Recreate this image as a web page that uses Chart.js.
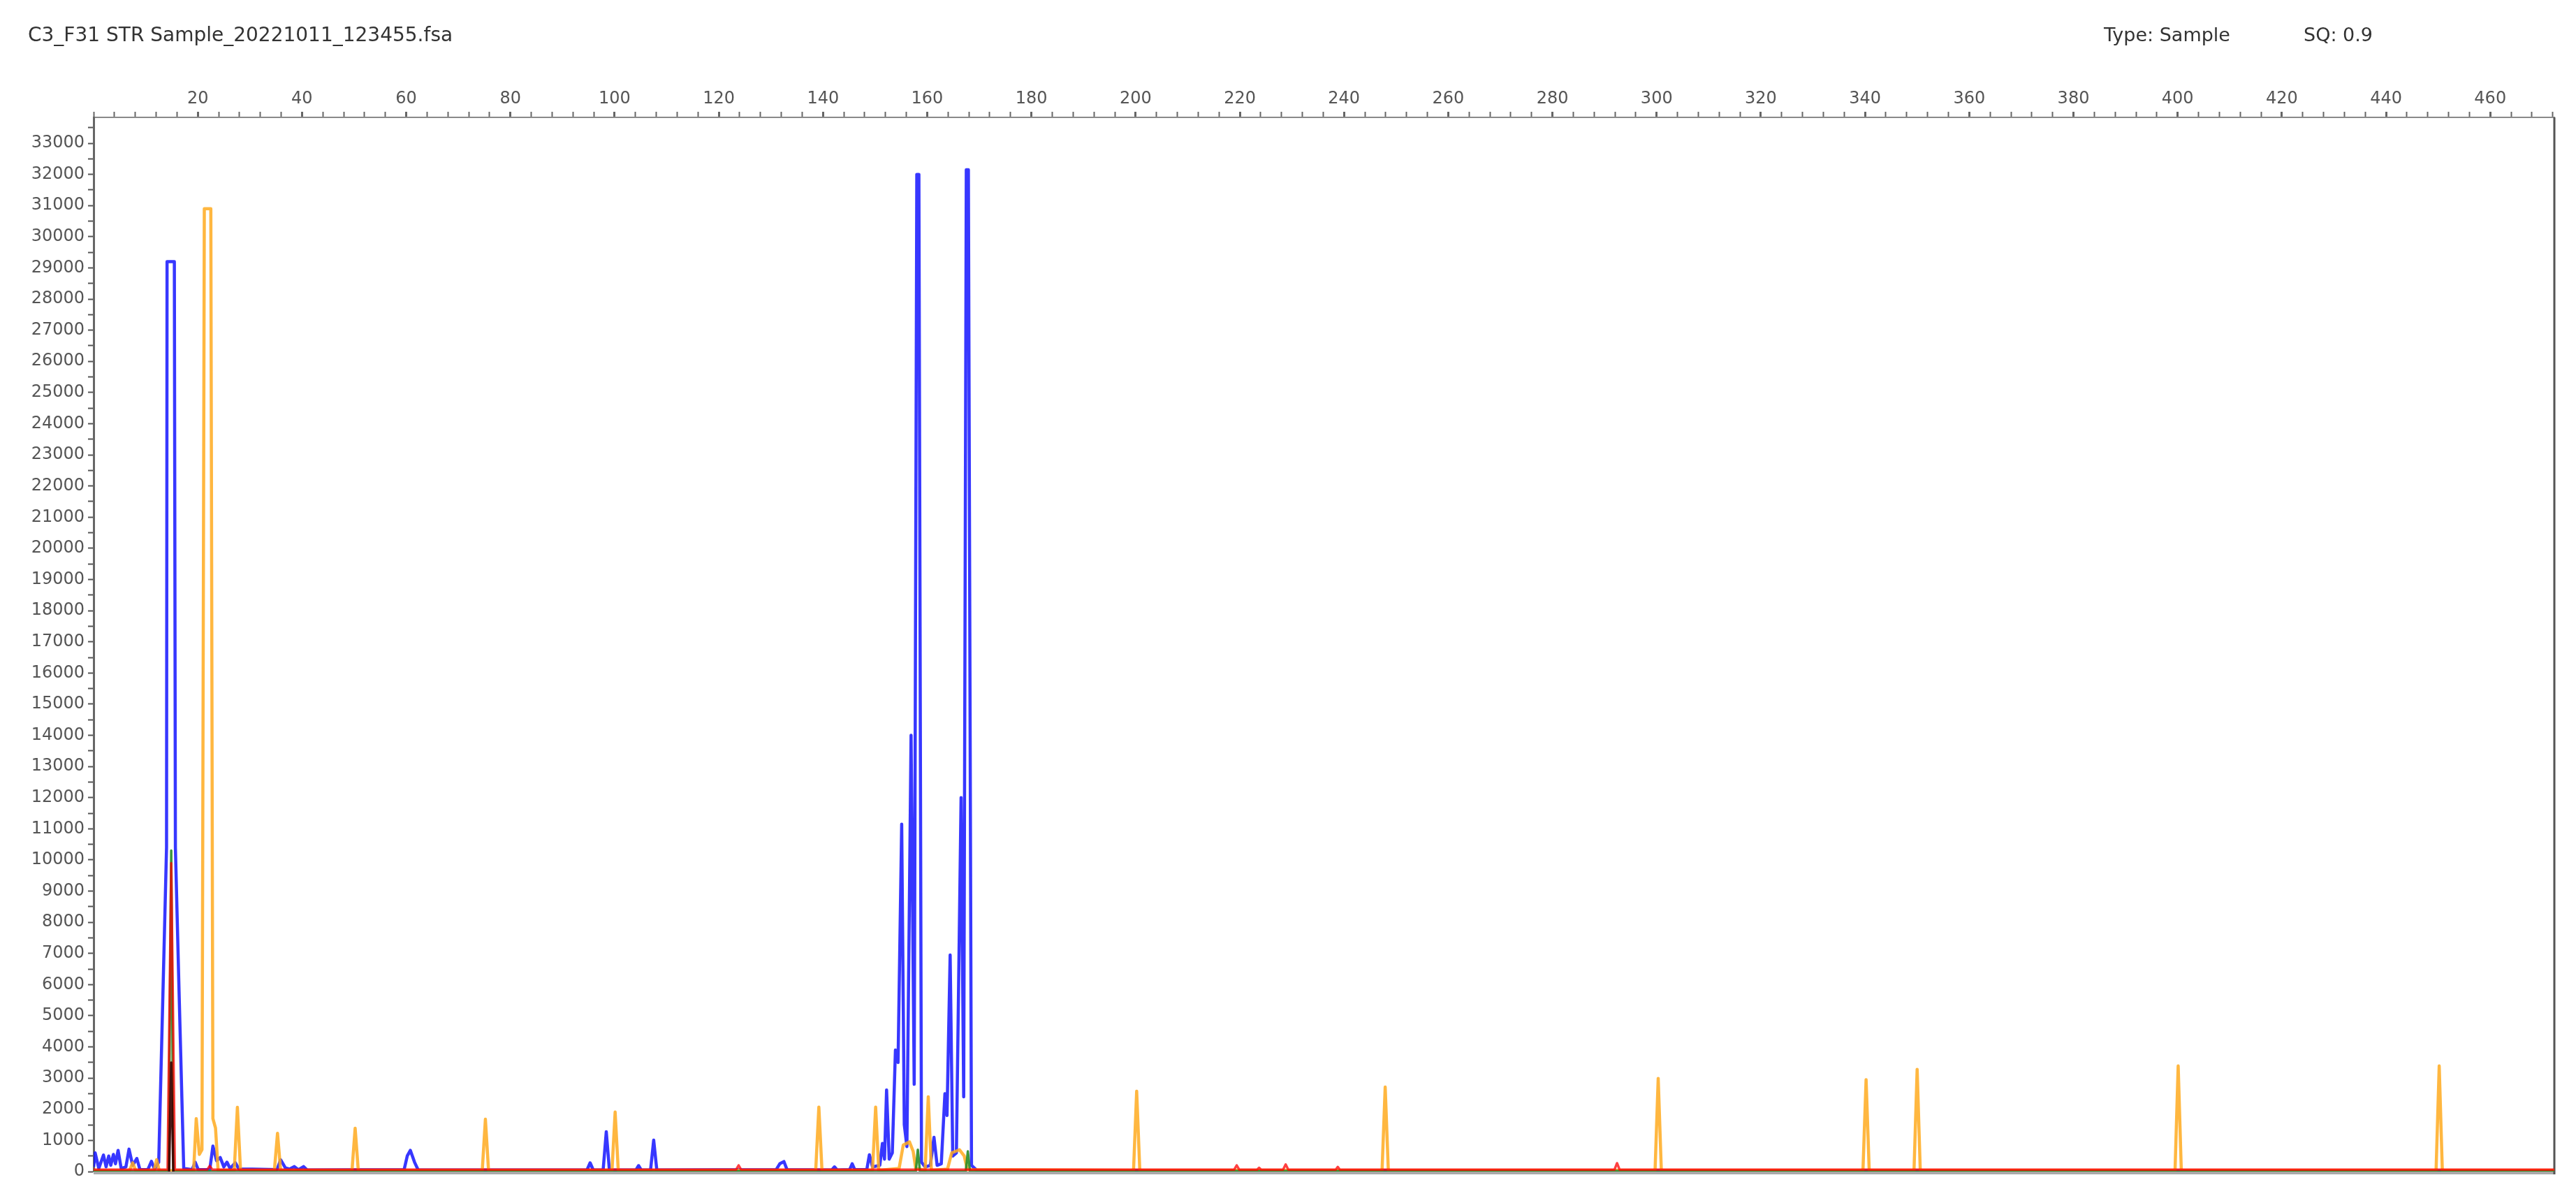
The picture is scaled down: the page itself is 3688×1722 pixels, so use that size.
<!DOCTYPE html>
<html>
<head>
<meta charset="utf-8">
<title>C3_F31 STR Sample_20221011_123455.fsa</title>
<script src="https://cdn.jsdelivr.net/npm/chart.js@4.4.0/dist/chart.umd.min.js"></script>
<style>
  html, body { margin: 0; padding: 0; background: #fff; }
  #wrap { position: relative; width: 3688px; height: 1722px; }
  .hdr { position: absolute; font-family: 'DejaVu Sans', sans-serif; color: #333; white-space: nowrap; line-height: 1; }
</style>
</head>
<body>
<div id="wrap">
  <canvas id="efg" width="3688" height="1722"></canvas>
  <div class="hdr" style="left:40px; top:36px; font-size:28px;">C3_F31 STR Sample_20221011_123455.fsa</div>
  <div class="hdr" style="left:3012px; top:36px; font-size:27px;">Type: Sample</div>
  <div class="hdr" style="left:3298px; top:36px; font-size:27px;">SQ: 0.9</div>
</div>
<script>
// size axis (bp) labels on top, RFU labels on the left
const sizeTickLabels = [20, 40, 60, 80, 100, 120, 140, 160, 180, 200, 220, 240, 260, 280, 300, 320, 340, 360, 380, 400, 420, 440, 460];
const rfuTickLabels = [0, 1000, 2000, 3000, 4000, 5000, 6000, 7000, 8000, 9000, 10000, 11000, 12000, 13000, 14000, 15000, 16000,
  17000, 18000, 19000, 20000, 21000, 22000, 23000, 24000, 25000, 26000, 27000, 28000, 29000, 30000, 31000, 32000, 33000];
const rfuMax = 33830;

// blue dye trace
const blueSize = [0, 0.3, 1.0, 1.9, 2.4, 2.9, 3.3, 3.8, 4.2, 4.7, 5.3, 6.2, 6.8, 7.5, 8.3, 8.9, 10.4, 11.1, 11.7,
  12.5, 13.5, 14.0, 14.1, 15.5, 15.7, 16.4, 17.3, 18.9, 19.5, 20.1, 22.3, 22.9, 23.6, 24.3, 25.0, 25.6, 26.2, 27.2, 27.9,
  30.5, 35.2, 35.9, 36.8, 37.6, 38.5, 39.3, 40.3, 41.0, 59.6, 60.2, 60.8, 61.6, 62.3,
  94.7, 95.3, 95.9, 97.8, 98.4, 99.0, 104.1, 104.6, 105.1, 106.9, 107.5, 108.1,
  131.0, 131.7, 132.5, 133.1, 141.7, 142.2, 142.7, 145.1, 145.6, 146.1, 148.4, 148.9, 149.5,
  150.9, 151.4, 151.8, 152.2, 152.7, 153.3, 153.9, 154.4, 155.1, 155.6, 156.1, 156.9, 157.5, 158.0, 158.4, 158.9,
  159.6, 160.6, 161.3, 161.9, 162.7, 163.4, 163.8, 164.4, 164.9, 165.6, 166.5, 167.0, 167.5, 167.9, 168.5, 169.5, 472.3];
const blueRfu = [150, 600, 100, 530, 150, 500, 200, 550, 250, 680, 100, 150, 720, 200, 420, 60, 60, 330, 80,
  300, 7000, 10400, 29200, 29200, 10400, 5800, 100, 60, 300, 60, 60, 820, 350, 450, 150, 300, 100, 280, 80,
  80, 60, 380, 120, 80, 160, 60, 160, 50, 60, 500, 680, 300, 50,
  50, 280, 50, 50, 1280, 50, 50, 190, 50, 50, 1010, 50,
  60, 250, 320, 60, 50, 150, 50, 60, 250, 60, 60, 540, 150,
  200, 900, 400, 2620, 400, 600, 3900, 3500, 11150, 1500, 800, 14000, 2800, 32000, 32000, 300,
  150, 200, 1100, 200, 250, 2500, 1800, 6950, 500, 600, 12000, 2400, 32150, 32150, 200, 40, 20];

// orange size standard trace
const orangeSize = [0, 6.9, 7.5, 8.1, 11.6, 12.1, 12.6, 19.2, 19.7, 20.3, 20.8, 21.25, 22.5, 22.9, 23.4, 23.9,
  27.0, 27.6, 28.2, 34.7, 35.3, 35.9, 49.6, 50.2, 50.8, 74.6, 75.2, 75.8, 99.5, 100.1, 100.7,
  138.6, 139.2, 139.8, 149.5, 150.1, 150.7, 154.6, 155.4, 156.6, 157.3, 157.8, 159.6, 160.2, 160.8,
  163.9, 164.7, 166.2, 167.1, 167.7, 199.6, 200.2, 200.8, 247.3, 247.9, 248.5, 299.7, 300.3, 300.9,
  339.6, 340.2, 340.8, 349.4, 350.0, 350.6, 399.5, 400.1, 400.7, 449.6, 450.2, 450.8, 472.3];
const orangeRfu = [30, 30, 280, 30, 30, 380, 30, 30, 1700, 550, 700, 30900, 30900, 1700, 1400, 40,
  40, 2060, 40, 40, 1230, 40, 40, 1390, 40, 40, 1680, 40, 40, 1910, 40,
  40, 2070, 40, 40, 2070, 40, 100, 850, 950, 650, 100, 40, 2400, 40,
  80, 600, 700, 500, 60, 40, 2580, 40, 40, 2710, 40, 40, 2990, 40,
  40, 2950, 40, 40, 3280, 40, 40, 3390, 40, 40, 3390, 40, 40];

// red dye trace
const redSize = [0, 14.2, 14.9, 15.6, 21.8, 22.3, 22.8, 123.3, 123.8, 124.3, 218.9, 219.4, 219.9, 223.3, 223.7, 224.1,
  228.3, 228.8, 229.3, 238.4, 238.8, 239.2, 291.9, 292.4, 292.9, 472.3];
const redRfu = [60, 60, 9900, 60, 60, 180, 60, 60, 200, 60, 60, 200, 60, 60, 120, 60,
  60, 230, 60, 60, 150, 60, 60, 270, 60, 60];

// green dye trace
const greenSize = [0, 14.4, 14.9, 15.3, 157.8, 158.2, 158.6, 167.4, 167.8, 168.2, 472.3];
const greenRfu = [10, 10, 10300, 10, 10, 700, 10, 10, 650, 10, 10];

// black dye trace
const blackSize = [14.5, 14.9, 15.3];
const blackRfu = [0, 3500, 0];

const trace = (xs, ys) => xs.map((x, i) => ({ x: x, y: ys[i] }));

function dye(label, xs, ys, color, width) {
  return {
    label: label,
    data: trace(xs, ys),
    borderColor: color,
    borderWidth: width,
    pointRadius: 0,
    tension: 0,
    fill: false,
    borderJoinStyle: 'round'
  };
}

// right and bottom edges of the plot frame
const framePlugin = {
  id: 'frame',
  beforeDatasetsDraw(chart) {
    const a = chart.chartArea;
    const c = chart.ctx;
    c.save();
    c.strokeStyle = '#a9a9a9';
    c.lineWidth = 4;
    c.beginPath();
    c.moveTo(a.left, a.bottom + 2);
    c.lineTo(a.right, a.bottom + 2);
    c.stroke();
    c.strokeStyle = '#555';
    c.lineWidth = 3;
    c.beginPath();
    c.moveTo(a.right, a.top);
    c.lineTo(a.right, a.bottom + 4);
    c.stroke();
    c.restore();
  }
};

new Chart(document.getElementById('efg'), {
  type: 'line',
  data: {
    datasets: [
      dye('Black', blackSize, blackRfu, 'rgba(60,0,0,0.9)', 3.5),
      dye('Red', redSize, redRfu, 'rgba(255,0,0,0.75)', 3.5),
      dye('Green', greenSize, greenRfu, 'rgba(40,140,40,0.9)', 3.5),
      dye('Orange', orangeSize, orangeRfu, 'rgba(255,170,30,0.85)', 4.5),
      dye('Blue', blueSize, blueRfu, 'rgba(20,20,255,0.85)', 4.5)
    ]
  },
  options: {
    responsive: false,
    animation: false,
    devicePixelRatio: 1,
    layout: { padding: { left: 20, right: 31, top: 0, bottom: 45 } },
    plugins: { legend: { display: false }, tooltip: { enabled: false } },
    scales: {
      x: {
        type: 'linear',
        position: 'top',
        min: 0,
        max: 472.3,
        afterFit: s => { s.height = 168; },
        border: { color: '#8a8a8a', width: 2 },
        grid: {
          drawOnChartArea: false,
          tickLength: 8,
          tickColor: '#666',
          tickWidth: ctx => (sizeTickLabels.includes(Math.round(ctx.tick.value)) ? 3 : 2)
        },
        ticks: {
          stepSize: 4,
          includeBounds: false,
          autoSkip: false,
          maxRotation: 0,
          padding: 4,
          color: '#555',
          font: { family: 'DejaVu Sans', size: 24 },
          callback: v => (sizeTickLabels.includes(Math.round(v)) ? String(Math.round(v)) : '')
        }
      },
      y: {
        type: 'linear',
        min: 0,
        max: rfuMax,
        afterFit: s => { s.width = 114; },
        // labelled tick every 1000 plus an unlabelled one halfway
        afterBuildTicks: s => {
          s.ticks = rfuTickLabels.flatMap(v => [v, v + 500]).filter(v => v < rfuMax).map(v => ({ value: v }));
        },
        border: { color: '#666', width: 3 },
        grid: {
          drawOnChartArea: false,
          tickLength: 8,
          tickColor: '#555',
          tickWidth: 2
        },
        ticks: {
          autoSkip: false,
          padding: 5,
          color: '#555',
          font: { family: 'DejaVu Sans', size: 24 },
          callback: v => (rfuTickLabels.includes(Math.round(v)) ? String(Math.round(v)) : '')
        }
      }
    }
  },
  plugins: [framePlugin]
});
</script>
</body>
</html>
